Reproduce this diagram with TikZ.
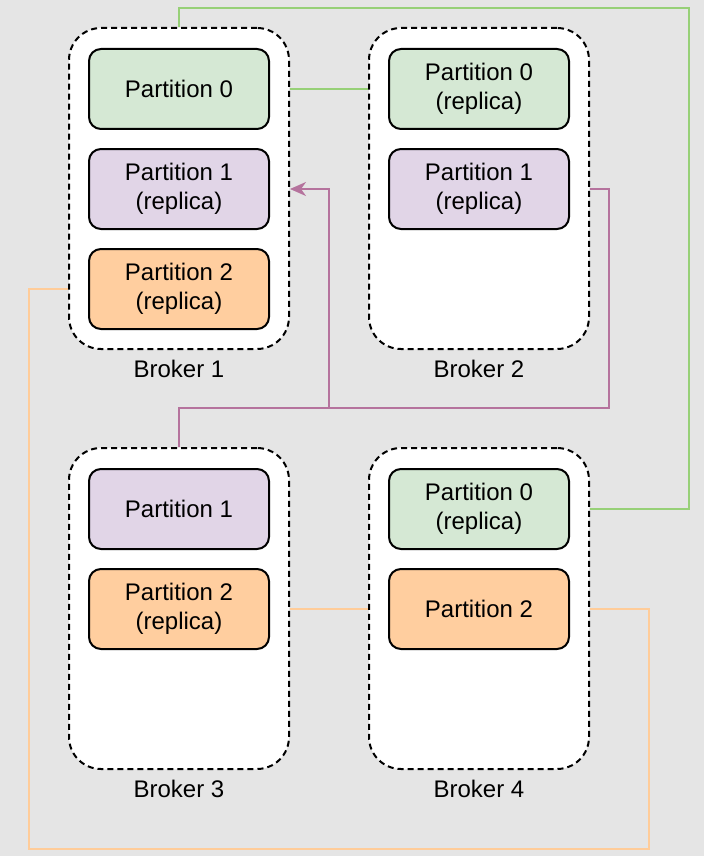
\documentclass[tikz,border=0pt]{standalone}
\usepackage{fontspec}
\setmainfont{Liberation Sans}
\usetikzlibrary{arrows.meta}
\definecolor{bg}{HTML}{E5E5E5}
\definecolor{gfill}{HTML}{D5E8D4}
\definecolor{pfill}{HTML}{E1D5E7}
\definecolor{ofill}{HTML}{FFCE9F}
\definecolor{gline}{HTML}{97D077}
\definecolor{pline}{HTML}{B5739D}
\definecolor{oline}{HTML}{FFCC99}
\tikzset{
  broker/.style={draw=black, fill=white, line width=1pt, dash pattern=on 3pt off 2pt,
    rounded corners=16pt, minimum width=110pt, minimum height=160.5pt, inner sep=0pt},
  part/.style={draw=black, line width=1pt, rounded corners=6pt, minimum width=90pt,
    minimum height=40pt, inner sep=0pt, align=center,
    font=\fontsize{12pt}{14.4pt}\selectfont},
  green part/.style={part, fill=gfill},
  purple part/.style={part, fill=pfill},
  orange part/.style={part, fill=ofill},
  blabel/.style={font=\fontsize{12pt}{14.4pt}\selectfont, inner sep=0pt},
  gconn/.style={draw=gline, line width=1pt},
  pconn/.style={draw=pline, line width=1pt},
  oconn/.style={draw=oline, line width=1pt},
}
\begin{document}
\begin{tikzpicture}[x=0.5pt, y=-0.5pt]
\fill[bg] (0,0) rectangle (704,856);
\useasboundingbox (0,0) rectangle (704,856);

% brokers
\node[broker] (B1) at (179,188.5) {};
\node[broker] (B2) at (479,188.5) {};
\node[broker] (B3) at (179,608.5) {};
\node[broker] (B4) at (479,608.5) {};

% partitions
\node[green part]  (b1p0) at (179,89)  {Partition 0};
\node[purple part] (b1p1) at (179,189) {Partition 1\\(replica)};
\node[orange part] (b1p2) at (179,289) {Partition 2\\(replica)};

\node[green part]  (b2p0) at (479,89)  {Partition 0\\(replica)};
\node[purple part] (b2p1) at (479,189) {Partition 1\\(replica)};

\node[purple part] (b3p1) at (179,509) {Partition 1};
\node[orange part] (b3p2) at (179,609) {Partition 2\\(replica)};

\node[green part]  (b4p0) at (479,509) {Partition 0\\(replica)};
\node[orange part] (b4p2) at (479,609) {Partition 2};

% labels
\node[blabel] (l1) at (179,369) {Broker 1};
\node[blabel] (l2) at (479,369) {Broker 2};
\node[blabel] (l3) at (179,789) {Broker 3};
\node[blabel] (l4) at (479,789) {Broker 4};

% green connectors
\draw[gconn] (B1.north) -- (179,8) -- (689,8) -- (689,509) -- (B4.east |- b4p0);
\draw[gconn] (B1.east |- b1p0) -- (B2.west |- b2p0);

% purple connectors
\coordinate (j) at (329,408);
\draw[pconn, -{Stealth[length=8pt,width=7pt,inset=2.5pt]}]
  (B2.east |- b2p1) -- (609,189) -- (609,408) -- (j) -- (329,189) -- (B1.east |- b1p1);
\draw[pconn] (B3.north) -- (179,408) -- (j);

% orange connectors
\draw[oconn] (B1.west |- b1p2) -- (29,289) -- (29,849) -- (649,849) -- (649,609) -- (B4.east |- b4p2);
\draw[oconn] (B3.east |- b3p2) -- (B4.west |- b4p2);
\end{tikzpicture}
\end{document}
